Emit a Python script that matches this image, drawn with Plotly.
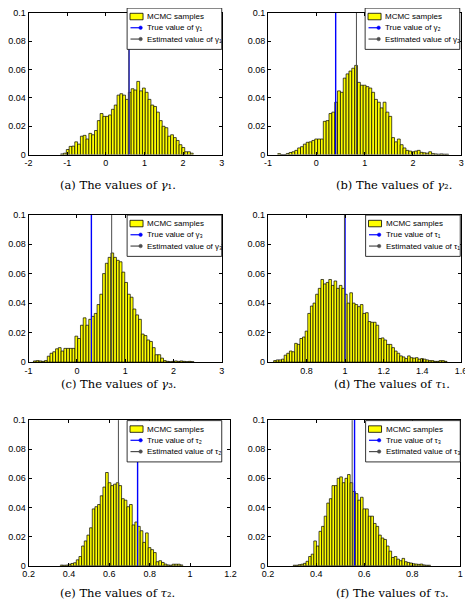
import numpy as np
import plotly.graph_objects as go

# ---------------- data ----------------
y_tickvals = [0, 0.02, 0.04, 0.06, 0.08, 0.1]
y_ticktext = ["0", "0.02", "0.04", "0.06", "0.08", "0.1"]

# (a) gamma_1
a_start, a_width = -1.17, 0.073
a_heights = [0.0005, 0.001, 0.0036, 0.0058, 0.006, 0.009, 0.0074, 0.013, 0.0136, 0.011,
             0.015, 0.014, 0.017, 0.024, 0.029, 0.027, 0.027, 0.028, 0.032, 0.035,
             0.042, 0.043, 0.042, 0.039, 0.044, 0.0465, 0.0456, 0.0517, 0.045, 0.047,
             0.044, 0.039, 0.035, 0.034, 0.030, 0.024, 0.020, 0.019, 0.013, 0.014,
             0.012, 0.010, 0.007, 0.005, 0.002, 0.002, 0.001]
a_true, a_est = 0.6, 0.595
a_xticks = [-2, -1, 0, 1, 2, 3]
a_xtext = ["-2", "-1", "0", "1", "2", "3"]

# (b) gamma_2
b_start, b_width = -0.8, 0.059
b_heights = [0.0007, 0, 0, 0.0008, 0.0015, 0.002, 0.003, 0.0047, 0.0056, 0.0074,
             0.0087, 0.009, 0.010, 0.011, 0.011, 0.011, 0.0235, 0.024, 0.029, 0.030,
             0.037, 0.045, 0.044, 0.054, 0.057, 0.059, 0.061, 0.063, 0.051, 0.049,
             0.049, 0.048, 0.047, 0.044, 0.039, 0.037, 0.033, 0.037, 0.030, 0.027,
             0.012, 0.009, 0.011, 0.007, 0.0047, 0.003, 0.0025, 0.002, 0.0025, 0.003,
             0.0016, 0.0013, 0.001, 0.002, 0.0007, 0.0005, 0.0003, 0.0005, 0.0003, 0.0003]
b_true, b_est = 0.4, 0.83
b_xticks = [-1, 0, 1, 2, 3]
b_xtext = ["-1", "0", "1", "2", "3"]

# (c) gamma_3
c_start, c_width = -0.9, 0.0573
c_heights = [0.0008, 0.001, 0.0008, 0.0005, 0.001, 0.004, 0.006, 0.007, 0.009, 0.0098,
             0.0075, 0.0093, 0.0093, 0.0093, 0.0093, 0.0176, 0.016, 0.025, 0.030, 0.025,
             0.029, 0.031, 0.033, 0.039, 0.046, 0.060, 0.067, 0.071, 0.074, 0.071,
             0.069, 0.068, 0.061, 0.054, 0.046, 0.044, 0.036, 0.032, 0.029, 0.019,
             0.018, 0.015, 0.014, 0.0098, 0.005, 0.005, 0.0027, 0.001, 0.0005, 0.0003,
             0.0005, 0.0008, 0.0005, 0.0008, 0.0005, 0.0003, 0.0005, 0.0003]
c_true, c_est = 0.3, 0.72
c_xticks = [-1, 0, 1, 2, 3]
c_xtext = ["-1", "0", "1", "2", "3"]

# (d) tau_1
d_start, d_width = 0.6303, 0.0136
d_heights = [0.001, 0.0015, 0.0015, 0.002, 0.0047, 0.006, 0.0075, 0.007, 0.0127, 0.012,
             0.016, 0.017, 0.021, 0.033, 0.038, 0.040, 0.046, 0.050, 0.056, 0.053,
             0.054, 0.056, 0.052, 0.055, 0.050, 0.052, 0.050, 0.046, 0.040, 0.047,
             0.040, 0.039, 0.0376, 0.039, 0.033, 0.0335, 0.0275, 0.027, 0.027, 0.025,
             0.016, 0.0164, 0.015, 0.012, 0.012, 0.0098, 0.0075, 0.006, 0.0042, 0.0035,
             0.0024, 0.0042, 0.003, 0.0027, 0.003, 0.002, 0.0024, 0.002, 0.0015, 0.001,
             0.001, 0.0005, 0.0005, 0.001, 0.001, 0.0005]
d_true, d_est = 1.0, 0.997
d_xticks = [0.8, 1.0, 1.2, 1.4, 1.6]
d_xtext = ["0.8", "1", "1.2", "1.4", "1.6"]

# (e) tau_2
e_start, e_width = 0.357, 0.0132
e_heights = [0.0004, 0.0003, 0.0004, 0.001, 0.0015, 0.002, 0.004, 0.0063, 0.0135, 0.017,
             0.021, 0.026, 0.039, 0.0405, 0.042, 0.048, 0.054, 0.064, 0.057, 0.055,
             0.056, 0.057, 0.055, 0.046, 0.045, 0.0405, 0.042, 0.028, 0.030, 0.027,
             0.024, 0.016, 0.0225, 0.0124, 0.011, 0.009, 0.0027, 0.0034, 0.0022, 0.0011,
             0.0005, 0.0003, 0.001, 0.001, 0.001, 0.0005]
e_true, e_est = 0.74, 0.645
e_xticks = [0.2, 0.4, 0.6, 0.8, 1.0, 1.2]
e_xtext = ["0.2", "0.4", "0.6", "0.8", "1", "1.2"]

# (f) tau_3
f_start, f_width = 0.304, 0.0108
f_heights = [0.0003, 0.0003, 0.0007, 0.001, 0.0016, 0.003, 0.0063, 0.0079, 0.017, 0.0135,
             0.0236, 0.027, 0.034, 0.043, 0.046, 0.055, 0.055, 0.060, 0.061, 0.057,
             0.060, 0.0626, 0.057, 0.051, 0.0495, 0.045, 0.047, 0.039, 0.039, 0.034,
             0.034, 0.029, 0.027, 0.021, 0.019, 0.018, 0.0135, 0.010, 0.0056, 0.0063,
             0.0045, 0.0034, 0.005, 0.0027, 0.0022, 0.0018, 0.0013, 0.0011, 0.0009, 0.0011,
             0.0005, 0.0003, 0.0003]
f_true, f_est = 0.56, 0.55
f_xticks = [0.2, 0.4, 0.6, 0.8, 1.0]
f_xtext = ["0.2", "0.4", "0.6", "0.8", "1"]

# ---------------- layout helpers ----------------
# the page body has an 8px margin, so the figure is offset by OFF inside the window
OFF = 8
FW, FH = 473 - OFF, 610 - OFF
def fx(px):
    return (px - OFF) / FW
def fy(py):
    return 1 - (py - OFF) / FH

YELLOW = "#ffff00"
BLUE = "#0000ff"
GRAY = "#4d4d4d"
SANS = "Liberation Sans, Arial, sans-serif"
SERIF = "DejaVu Serif, serif"

panels = [
    dict(tag="a", sym="γ", sub="₁", start=a_start, width=a_width, h=a_heights, tv=a_true, ev=a_est,
         xr=[-2, 3], xt=a_xticks, xl=a_xtext, box=(19, 219, 3, 152), leg=(121, 3), cap=(112, 183)),
    dict(tag="b", sym="γ", sub="₂", start=b_start, width=b_width, h=b_heights, tv=b_true, ev=b_est,
         xr=[-1, 3], xt=b_xticks, xl=b_xtext, box=(267, 467, 3, 152), leg=(367.5, 3), cap=(397, 183)),
    dict(tag="c", sym="γ", sub="₃", start=c_start, width=c_width, h=c_heights, tv=c_true, ev=c_est,
         xr=[-1, 3], xt=c_xticks, xl=c_xtext, box=(19, 219, 213, 363), leg=(121, 213.5), cap=(112, 385)),
    dict(tag="d", sym="τ", sub="₁", start=d_start, width=d_width, h=d_heights, tv=d_true, ev=d_est,
         xr=[0.6, 1.6], xt=d_xticks, xl=d_xtext, box=(266.7, 466.7, 213, 363), leg=(368, 213.5), cap=(395, 385)),
    dict(tag="e", sym="τ", sub="₂", start=e_start, width=e_width, h=e_heights, tv=e_true, ev=e_est,
         xr=[0.2, 1.2], xt=e_xticks, xl=e_xtext, box=(19, 228, 422, 570), leg=(121, 422.5), cap=(111, 598)),
    dict(tag="f", sym="τ", sub="₃", start=f_start, width=f_width, h=f_heights, tv=f_true, ev=f_est,
         xr=[0.2, 1.0], xt=f_xticks, xl=f_xtext, box=(267, 466, 422, 570), leg=(368, 422.5), cap=(396, 598)),
]

fig = go.Figure()
layout = dict(width=FW, height=FH, margin=dict(l=0, r=0, t=0, b=0),
              paper_bgcolor="white", plot_bgcolor="white", showlegend=False,
              barmode="overlay", font=dict(family=SANS, color="black"))
shapes, annotations = [], []

for i, p in enumerate(panels, start=1):
    xa = "x" if i == 1 else f"x{i}"
    ya = "y" if i == 1 else f"y{i}"
    heights = np.array(p["h"], dtype=float)
    centers = p["start"] + (np.arange(len(heights)) + 0.5) * p["width"]
    fig.add_trace(go.Bar(x=centers, y=heights, width=p["width"], xaxis=xa, yaxis=ya,
                         marker=dict(color=YELLOW, line=dict(color="black", width=0.7)),
                         name="MCMC samples"))
    fig.add_trace(go.Scatter(x=[p["tv"], p["tv"]], y=[0, 0.1], mode="lines", xaxis=xa, yaxis=ya,
                             line=dict(color=BLUE, width=1.4), name="True value"))
    fig.add_trace(go.Scatter(x=[p["ev"], p["ev"]], y=[0, 0.1], mode="lines", xaxis=xa, yaxis=ya,
                             line=dict(color=GRAY, width=1.0), name="Estimated value"))

    x0, x1, y0, y1 = p["box"]
    common = dict(showline=True, linecolor="black", linewidth=1, mirror="ticks",
                  ticks="inside", ticklen=3, tickcolor="black", tickwidth=1,
                  showgrid=False, zeroline=False,
                  tickfont=dict(family=SANS, size=9, color="black"))
    layout[f"xaxis{'' if i == 1 else i}"] = dict(domain=[fx(x0), min(fx(x1), 1)], range=p["xr"],
                                                tickvals=p["xt"], ticktext=p["xl"],
                                                anchor=ya, **common)
    layout[f"yaxis{'' if i == 1 else i}"] = dict(domain=[fy(y1), min(fy(y0), 1)], range=[0, 0.1],
                                                tickvals=y_tickvals, ticktext=y_ticktext,
                                                anchor=xa, **common)

    # ---- legend box drawn by hand (MATLAB style) ----
    lx, ty = p["leg"]
    lw, lh = 98, 42
    shapes.append(dict(type="rect", xref="paper", yref="paper", layer="above",
                       x0=fx(lx), x1=fx(lx + lw), y0=fy(ty + lh), y1=fy(ty),
                       fillcolor="white", line=dict(color="black", width=0.8)))
    rows = [ty + 8.6, ty + 20.0, ty + 31.5]
    shapes.append(dict(type="rect", xref="paper", yref="paper", layer="above",
                       x0=fx(lx + 3), x1=fx(lx + 16.5), y0=fy(rows[0] + 3.3), y1=fy(rows[0] - 3.3),
                       fillcolor=YELLOW, line=dict(color="black", width=0.8)))
    for r, col in ((rows[1], BLUE), (rows[2], GRAY)):
        shapes.append(dict(type="line", xref="paper", yref="paper", layer="above",
                           x0=fx(lx + 3.5), x1=fx(lx + 15), y0=fy(r), y1=fy(r),
                           line=dict(color=col, width=1.2)))
        shapes.append(dict(type="circle", xref="paper", yref="paper", layer="above",
                           x0=fx(lx + 14 - 1.8), x1=fx(lx + 14 + 1.8),
                           y0=fy(r + 1.8), y1=fy(r - 1.8),
                           fillcolor=col, line=dict(color=col, width=0.5)))
    labels = ["MCMC samples",
              f"True value of {p['sym']}{p['sub']}",
              f"Estimated value of {p['sym']}{p['sub']}"]
    for r, t in zip(rows, labels):
        annotations.append(dict(x=fx(lx + 19), y=fy(r), xref="paper", yref="paper",
                                xanchor="left", yanchor="middle", showarrow=False, text=t,
                                font=dict(family=SANS, size=8, color="black")))

    # ---- caption ----
    cx, cy = p["cap"]
    annotations.append(dict(x=fx(cx), y=fy(cy), xref="paper", yref="paper",
                            xanchor="center", yanchor="middle", showarrow=False,
                            text=f"({p['tag']}) The values of <i>{p['sym']}</i>{p['sub']}.",
                            font=dict(family=SERIF, size=11.5, color="black")))

layout["shapes"] = shapes
layout["annotations"] = annotations
fig.update_layout(**layout)
fig.write_html("out.html")
